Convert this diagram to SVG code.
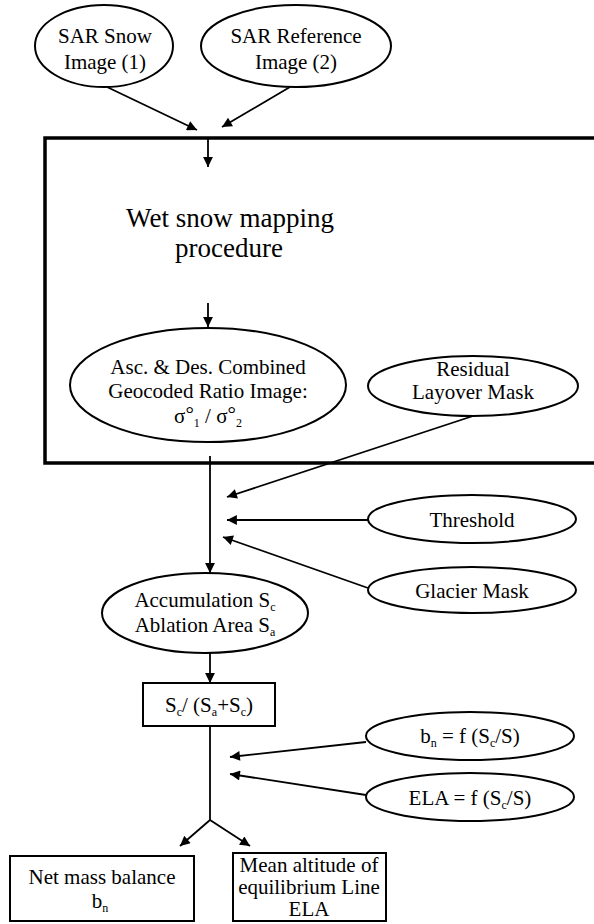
<svg xmlns="http://www.w3.org/2000/svg" width="594" height="924" viewBox="0 0 594 924">
  <style>
    .node ellipse, .node rect { fill: #fff; stroke: #000; stroke-width: 2; }
    .frame { fill: none; stroke: #000; stroke-width: 3.5; }
    .conn line, .conn path { stroke: #000; stroke-width: 1.8; fill: none; }
    text { font-family: "Liberation Serif", "Times New Roman", serif; font-size: 21px; fill: #000; text-anchor: middle; }
    .big { font-size: 27px; }
    .sub { font-size: 12px; }
  </style>
  <defs>
    <marker id="arrow" viewBox="0 0 10 10" refX="10" refY="5" markerWidth="6" markerHeight="5.5" orient="auto" markerUnits="strokeWidth">
      <path d="M0,0 L10,5 L0,10 z" fill="#000"/>
    </marker>
  </defs>

  <rect width="594" height="924" fill="#fff"/>

  <!-- processing frame (open to the right) -->
  <g id="frame">
    <path class="frame" d="M596,138 H45 V463 H596"/>
    <text class="big" x="230" y="227">Wet snow mapping</text>
    <text class="big" x="229" y="257">procedure</text>
  </g>

  <g id="sar-snow" class="node">
    <ellipse cx="104" cy="46" rx="69" ry="41"/>
    <text x="105" y="43">SAR Snow</text>
    <text x="105" y="69">Image (1)</text>
  </g>

  <g id="sar-reference" class="node">
    <ellipse cx="296" cy="46" rx="95" ry="41"/>
    <text x="296" y="43">SAR Reference</text>
    <text x="296" y="69">Image (2)</text>
  </g>

  <g id="ratio-image" class="node">
    <ellipse cx="208" cy="385" rx="138" ry="57"/>
    <text x="208" y="374">Asc. &amp; Des. Combined</text>
    <text x="208" y="398">Geocoded Ratio Image:</text>
    <text x="208" y="423">σ<tspan dy="-2">°</tspan><tspan dy="6" class="sub">1</tspan><tspan dy="-4"> / σ</tspan><tspan dy="-2">°</tspan><tspan dy="6" class="sub">2</tspan></text>
  </g>

  <g id="layover-mask" class="node">
    <ellipse cx="473" cy="386" rx="105" ry="30"/>
    <text x="473" y="376">Residual</text>
    <text x="473" y="399">Layover Mask</text>
  </g>

  <g id="threshold" class="node">
    <ellipse cx="472" cy="519" rx="104" ry="24"/>
    <text x="472" y="527">Threshold</text>
  </g>

  <g id="glacier-mask" class="node">
    <ellipse cx="472" cy="590" rx="104" ry="23"/>
    <text x="472" y="598">Glacier Mask</text>
  </g>

  <g id="areas" class="node">
    <ellipse cx="205" cy="613" rx="103" ry="40"/>
    <text x="205" y="607">Accumulation S<tspan dy="4" class="sub">c</tspan></text>
    <text x="205" y="632">Ablation Area S<tspan dy="4" class="sub">a</tspan></text>
  </g>

  <g id="ratio" class="node">
    <rect x="143" y="683" width="132" height="43"/>
    <text x="209" y="712">S<tspan dy="4" class="sub">c</tspan><tspan dy="-4">/ (S</tspan><tspan dy="4" class="sub">a</tspan><tspan dy="-4">+S</tspan><tspan dy="4" class="sub">c</tspan><tspan dy="-4">)</tspan></text>
  </g>

  <g id="bn-function" class="node">
    <ellipse cx="470" cy="736" rx="104" ry="24"/>
    <text x="470" y="743">b<tspan dy="4" class="sub">n</tspan><tspan dy="-4"> = f (S</tspan><tspan dy="4" class="sub">c</tspan><tspan dy="-4">/S)</tspan></text>
  </g>

  <g id="ela-function" class="node">
    <ellipse cx="470" cy="797" rx="104" ry="24"/>
    <text x="470" y="805">ELA = f (S<tspan dy="4" class="sub">c</tspan><tspan dy="-4">/S)</tspan></text>
  </g>

  <g id="net-mass-balance" class="node">
    <rect x="10" y="856" width="184" height="65"/>
    <text x="102" y="884">Net mass balance</text>
    <text x="100" y="908">b<tspan dy="4" class="sub">n</tspan></text>
  </g>

  <g id="mean-ela" class="node">
    <rect x="233" y="853" width="153" height="68"/>
    <text x="309" y="872">Mean altitude of</text>
    <text x="309" y="894">equilibrium Line</text>
    <text x="309" y="916">ELA</text>
  </g>

  <g id="connectors" class="conn">
    <line x1="107" y1="87" x2="197" y2="130" marker-end="url(#arrow)"/>
    <line x1="290" y1="87" x2="222" y2="127" marker-end="url(#arrow)"/>
    <line x1="208" y1="139" x2="208" y2="167" marker-end="url(#arrow)"/>
    <line x1="208" y1="303" x2="208" y2="327" marker-end="url(#arrow)"/>
    <line x1="210" y1="456" x2="210" y2="573" marker-end="url(#arrow)"/>
    <line x1="473" y1="416" x2="227" y2="497" marker-end="url(#arrow)"/>
    <line x1="368" y1="520" x2="227" y2="520" marker-end="url(#arrow)"/>
    <line x1="368" y1="588" x2="223" y2="537" marker-end="url(#arrow)"/>
    <line x1="210" y1="653" x2="210" y2="683" marker-end="url(#arrow)"/>
    <line x1="210" y1="726" x2="210" y2="820"/>
    <line x1="366" y1="742" x2="230" y2="757" marker-end="url(#arrow)"/>
    <line x1="366" y1="795" x2="230" y2="774" marker-end="url(#arrow)"/>
    <line x1="210" y1="820" x2="180" y2="846" marker-end="url(#arrow)"/>
    <line x1="210" y1="820" x2="250" y2="846" marker-end="url(#arrow)"/>
  </g>
</svg>
